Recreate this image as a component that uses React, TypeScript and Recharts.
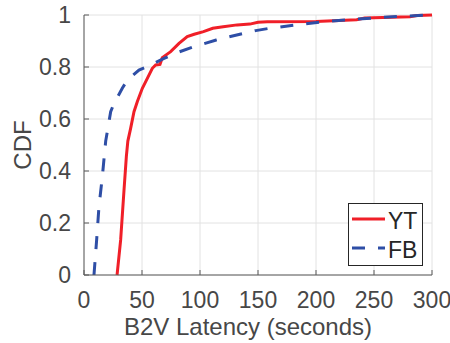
import React from 'react';
import { CartesianGrid, Legend, Line, LineChart, XAxis, YAxis } from 'recharts';

const ytLatency = [28.5, 31.6, 34.5, 36.5, 37.8, 40.2, 43.1, 46, 50.3, 54.6, 58.9, 61.8, 65.5, 67.5, 74.7, 81.9, 89, 95, 103, 111, 120, 132, 143, 150, 158, 200, 215, 235, 242, 281, 287, 300];
const ytCdf = [0, 0.135, 0.327, 0.455, 0.515, 0.564, 0.628, 0.667, 0.718, 0.756, 0.795, 0.808, 0.81, 0.836, 0.859, 0.891, 0.917, 0.926, 0.936, 0.949, 0.955, 0.962, 0.965, 0.972, 0.974, 0.975, 0.978, 0.982, 0.988, 0.993, 0.998, 1];

const fbLatency = [8.6, 10.9, 12.9, 15.8, 18.7, 23, 25.9, 33, 37.4, 47.4, 57.5, 69, 80, 94.8, 114, 125, 137, 148, 160, 183, 206, 232, 258, 278, 298];
const fbCdf = [0, 0.135, 0.263, 0.378, 0.515, 0.628, 0.66, 0.718, 0.75, 0.788, 0.808, 0.833, 0.855, 0.878, 0.904, 0.916, 0.929, 0.94, 0.949, 0.962, 0.974, 0.983, 0.991, 0.996, 1];

const xTicks = [0, 50, 100, 150, 200, 250, 300];
const yTicks = [0, 0.2, 0.4, 0.6, 0.8, 1];

const toPoints = (xs: number[], ys: number[]) => xs.map((x, i) => ({ latency: x, cdf: ys[i] }));

const series = [
  { name: 'YT', data: toPoints(ytLatency, ytCdf), color: '#f01f28', dash: undefined as string | undefined },
  { name: 'FB', data: toPoints(fbLatency, fbCdf), color: '#2e4ea6', dash: '13 13' },
];

const axisColor = '#5a5a5a';
const textColor = '#474747';
const gridColor = '#e2e2e2';
const tickLen = 5;
const xTickGap = 17;
const yTickGap = 13;

// bottom tick: label plus a short inward tick mark
const XTick = (props: any) => {
  const { x, y, payload } = props;
  const axisY = y - xTickGap;
  return (
    <g>
      <line x1={x} x2={x} y1={axisY} y2={axisY - tickLen} stroke={axisColor} />
      <text x={x} y={y} dy="0.71em" textAnchor="middle" fontSize={23} fill={textColor}>
        {payload.value}
      </text>
    </g>
  );
};

const YTick = (props: any) => {
  const { x, y, payload } = props;
  const axisX = x + yTickGap;
  return (
    <g>
      <line x1={axisX} x2={axisX + tickLen} y1={y} y2={y} stroke={axisColor} />
      <text x={x} y={y} dy="0.355em" textAnchor="end" fontSize={23} fill={textColor}>
        {payload.value}
      </text>
    </g>
  );
};

const XLabel = (props: any) => {
  const { viewBox } = props;
  return (
    <text
      x={viewBox.x + viewBox.width / 2 - 10}
      y={viewBox.y + viewBox.height - 8}
      textAnchor="middle"
      fontSize={24}
      fill={textColor}
    >
      B2V Latency (seconds)
    </text>
  );
};

const LegendBox = () => (
  <svg width={75} height={64} style={{ display: 'block' }}>
    <rect x={0.5} y={0.5} width={74} height={62} fill="#fff" stroke="#262626" />
    {series.map((s, i) => {
      const cy = 16 + i * 29;
      return (
        <g key={s.name}>
          <line x1={4} x2={37} y1={cy} y2={cy} stroke={s.color} strokeWidth={3} strokeDasharray={s.dash} />
          <text x={40} y={cy + 9.5} fontSize={23} fill="#262626">
            {s.name}
          </text>
        </g>
      );
    })}
  </svg>
);

export default function App() {
  return (
    <div style={{ position: 'absolute', left: 0, top: 0, background: '#fff' }}>
      <LineChart
        width={450}
        height={343}
        margin={{ top: 15, right: 18, bottom: 0, left: 0 }}
        style={{ fontFamily: '"Liberation Sans", Arial, sans-serif' }}
      >
        <CartesianGrid stroke={gridColor} />
        <XAxis
          dataKey="latency"
          type="number"
          domain={[0, 300]}
          ticks={xTicks}
          height={68}
          tickLine={false}
          tickSize={0}
          tickMargin={xTickGap}
          tick={<XTick />}
          stroke={axisColor}
          label={<XLabel />}
        />
        <XAxis
          xAxisId="top"
          orientation="top"
          mirror
          type="number"
          domain={[0, 300]}
          ticks={xTicks}
          height={0}
          tick={false}
          tickSize={tickLen}
          stroke={axisColor}
        />
        <YAxis
          type="number"
          domain={[0, 1]}
          ticks={yTicks}
          width={84}
          tickLine={false}
          tickSize={0}
          tickMargin={yTickGap}
          tick={<YTick />}
          stroke={axisColor}
          label={{
            value: 'CDF',
            angle: -90,
            position: 'insideLeft',
            offset: 22,
            fontSize: 24,
            fill: textColor,
            style: { textAnchor: 'middle' },
          }}
        />
        <YAxis
          yAxisId="right"
          orientation="right"
          mirror
          type="number"
          domain={[0, 1]}
          ticks={yTicks}
          width={0}
          tick={false}
          tickSize={tickLen}
          stroke={axisColor}
        />
        {series.map((s) => (
          <Line
            key={s.name}
            name={s.name}
            data={s.data}
            dataKey="cdf"
            type="linear"
            stroke={s.color}
            strokeWidth={3}
            strokeDasharray={s.dash}
            dot={false}
            activeDot={false}
            isAnimationActive={false}
          />
        ))}
        <Legend
          layout="vertical"
          align="center"
          verticalAlign="middle"
          content={<LegendBox />}
          wrapperStyle={{ left: 348, top: 203, width: 75, height: 64 }}
        />
      </LineChart>
    </div>
  );
}
